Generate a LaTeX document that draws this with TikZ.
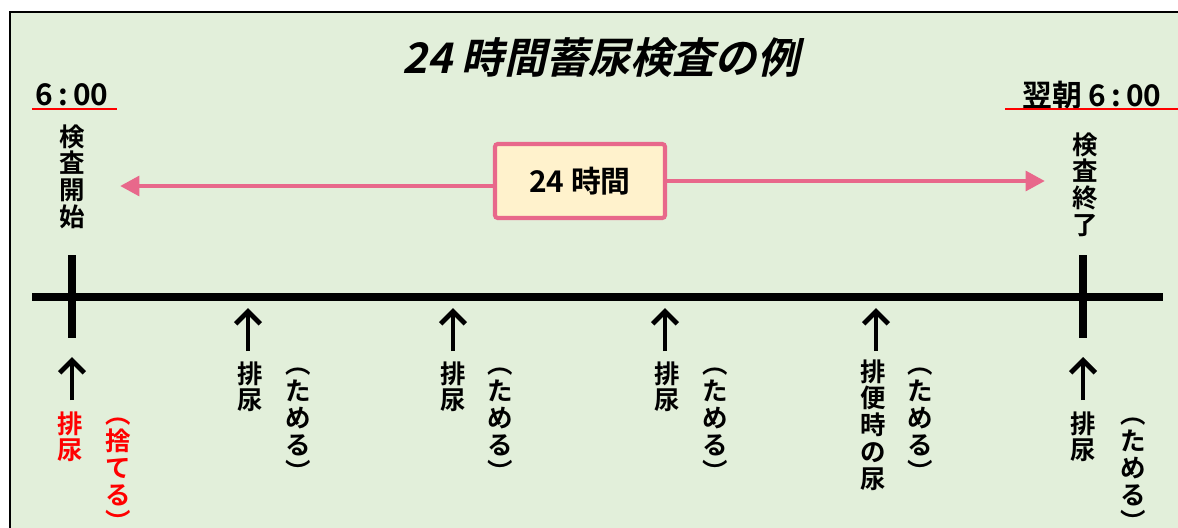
\documentclass[tikz,border=0pt]{standalone}
\usepackage{fontspec}
\usetikzlibrary{arrows.meta,calc}
\newfontfamily\jpb{Noto Sans CJK JP Bold}
\newfontfamily\jpbi{Noto Sans CJK JP Bold}[FakeSlant=0.22]
\definecolor{bggreen}{HTML}{E2EFDA}
\definecolor{pinkc}{HTML}{E8688B}
\definecolor{boxfill}{HTML}{FFF2CC}
\tikzset{
  vlabel/.style={anchor=north, inner sep=0pt, align=center, font=\jpb\fontsize{14.5pt}{15.3pt}\selectfont},
  timelbl/.style={inner sep=0pt, font=\jpb\fontsize{17pt}{19pt}\selectfont},
  uparrow/.style={line width=2.8pt, -{Straight Barb[length=7pt,width=14pt,line width=2.8pt]}},
  pinkarrow/.style={pinkc, line width=2.7pt, -{Triangle[length=11pt,width=11pt]}},
  tick/.style={line width=4.6pt},
  timeline/.style={line width=5.1pt},
  redline/.style={red, line width=0.7pt},
}
\begin{document}
\begin{tikzpicture}[x=0.02cm,y=-0.02cm]
\useasboundingbox (0,0) rectangle (1178,528);
\begin{scope}
\clip (0,0) rectangle (1178,528);
\fill[white] (0,0) rectangle (1178,528);
\draw[fill=bggreen, line width=1.2pt] (10,12) rectangle (1200,560);
\end{scope}
% title
\node[inner sep=0pt, font=\jpbi\fontsize{24pt}{26pt}\selectfont] (title) at (601,58) {24 時間蓄尿検査の例};
% times
\node[timelbl] (t1) at (72,95) {6\,:\,00};
\node[timelbl] (t2) at (1092,95) {翌朝 6\,:\,00};
\draw[redline] (32,109) -- (117,109);
\draw[redline] (1005,109) -- (1180,109);
% start / end
\node[vlabel] (start) at (72,124) {検\\査\\開\\始};
\node[vlabel] (end) at (1085,132) {検\\査\\終\\了};
% 24h box
\node[draw=pinkc, line width=2.3pt, fill=boxfill, rounded corners=1.5pt, minimum width=3.4cm, minimum height=1.48cm, font=\jpb\fontsize{17pt}{19pt}\selectfont] (box) at (580,181) {24 時間};
\coordinate (la) at (120,186);
\coordinate (ra) at (1045,181);
\draw[pinkarrow] (box.west |- la) -- (la);
\draw[pinkarrow] (box.east |- ra) -- (ra);
% timeline
\coordinate (tl) at (32,297);
\coordinate (tr) at (1163,297);
\draw[timeline] (tl) -- (tr);
\draw[tick] (72,255) -- (72,338);
\draw[tick] (1083,255) -- (1083,338);
% labels
\node[vlabel, text=red] (u0) at (70,411) {排\\尿};
\node[vlabel, text=red] (p0) at (118,418) {︵\\捨\\て\\る\\︶};
\node[vlabel] (u1) at (250,361) {排\\尿};
\node[vlabel] (p1) at (298,368) {︵\\た\\め\\る\\︶};
\node[vlabel] (u2) at (453,361) {排\\尿};
\node[vlabel] (p2) at (500,368) {︵\\た\\め\\る\\︶};
\node[vlabel] (u3) at (667,361) {排\\尿};
\node[vlabel] (p3) at (715,368) {︵\\た\\め\\る\\︶};
\node[vlabel] (u4) at (873,359) {排\\便\\時\\の\\尿};
\node[vlabel] (p4) at (920,368) {︵\\た\\め\\る\\︶};
\node[vlabel] (u5) at (1083,411) {排\\尿};
\node[vlabel] (p5) at (1133,418) {︵\\た\\め\\る\\︶};
% arrows
\coordinate (a0) at (72,357);
\coordinate (a1) at (248,308);
\coordinate (a2) at (453,308);
\coordinate (a3) at (665,308);
\coordinate (a4) at (876,308);
\coordinate (a5) at (1083,357);
\draw[uparrow] (a0 |- 0,400) -- (a0);
\draw[uparrow] (a1 |- 0,351) -- (a1);
\draw[uparrow] (a2 |- 0,351) -- (a2);
\draw[uparrow] (a3 |- 0,351) -- (a3);
\draw[uparrow] (a4 |- 0,351) -- (a4);
\draw[uparrow] (a5 |- 0,400) -- (a5);
\end{tikzpicture}
\end{document}
